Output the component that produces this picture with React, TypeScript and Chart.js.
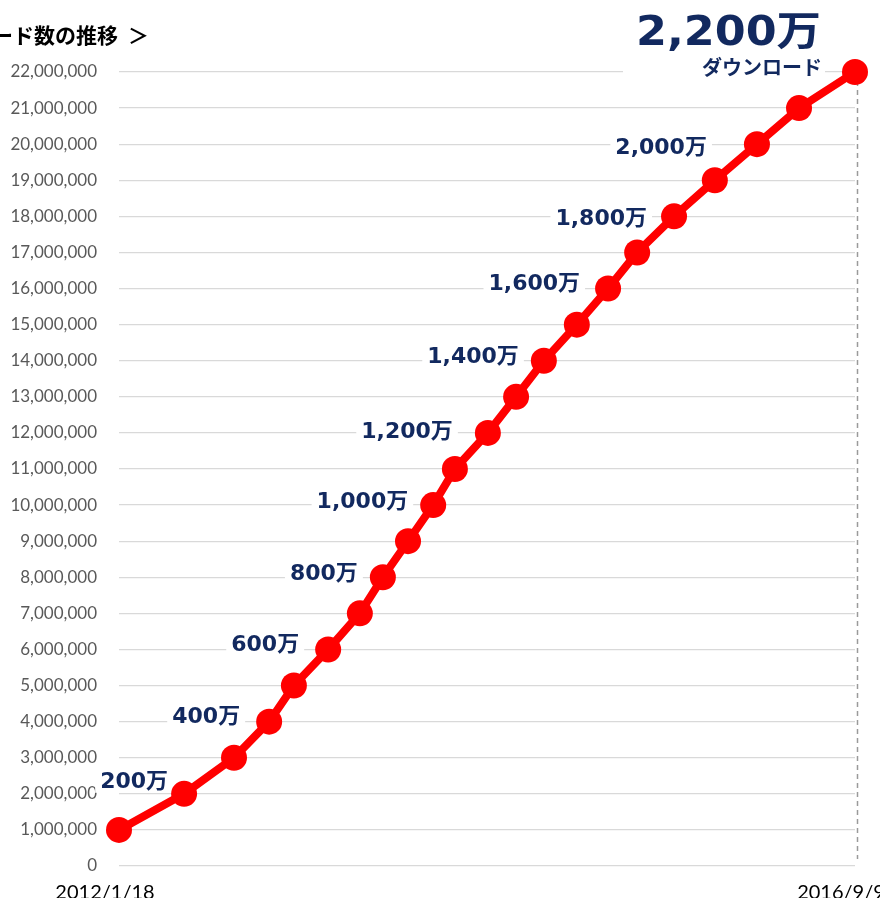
import React, { useEffect, useRef } from 'react';
import { Chart, registerables } from 'chart.js';

Chart.register(...registerables);

// ---- data ----
const dates = [
  '2012-01-18', '2012-06-16', '2012-10-09', '2012-12-29', '2013-02-24', '2013-05-14',
  '2013-07-26', '2013-09-17', '2013-11-14', '2014-01-11', '2014-03-02', '2014-05-17',
  '2014-07-21', '2014-09-23', '2014-12-08', '2015-02-18', '2015-04-26', '2015-07-20',
  '2015-10-22', '2016-01-27', '2016-05-03', '2016-09-09',
];
const downloads = [
  1000000, 2000000, 3000000, 4000000, 5000000, 6000000, 7000000, 8000000, 9000000, 10000000,
  11000000, 12000000, 13000000, 14000000, 15000000, 16000000, 17000000, 18000000, 19000000,
  20000000, 21000000, 22000000,
];
const xTickLabels = ['2012/1/18', '2016/9/9'];
const milestoneValues = [2000000, 4000000, 6000000, 8000000, 10000000, 12000000, 14000000, 16000000, 18000000, 20000000];
const milestoneTexts = ['200万', '400万', '600万', '800万', '1,000万', '1,200万', '1,400万', '1,600万', '1,800万', '2,000万'];
const headlineText = '2,200万';
const headlineSub = 'ダウンロード';
const titleText = 'ダウンロード数の推移';
const titleMark = '＞';

// ---- layout / style (pixel offsets of labels relative to their point) ----
const labelOffsets = [
  [-16, -12], [-29, -4], [-29, -4], [-25, -3], [-25, -3],
  [-35, -1], [-25, -3], [-28, -4], [-27, 3], [-50, 4],
];
const NAVY = '#12295f';
const RED = '#ff0000';

const DAY = 86400000;
const toDay = (s: string) => {
  const [y, m, d] = s.split('-').map(Number);
  return Date.UTC(y, m - 1, d) / DAY;
};
const points = dates.map((d, i) => ({ x: toDay(d), y: downloads[i] }));

const annotationPlugin = {
  id: 'annotations',
  beforeDatasetsDraw(chart: any) {
    const { ctx, chartArea } = chart;
    const xs = chart.scales.x;
    const ys = chart.scales.y;
    ctx.save();
    // dashed vertical line at the end
    const last = points[points.length - 1];
    const lx = Math.round(xs.getPixelForValue(last.x)) + 2.5;
    ctx.strokeStyle = '#9a9a9a';
    ctx.lineWidth = 1.5;
    ctx.setLineDash([5, 4]);
    ctx.beginPath();
    ctx.moveTo(lx, chartArea.top);
    ctx.lineTo(lx, chartArea.bottom - 7);
    ctx.stroke();
    ctx.setLineDash([]);

    // milestone labels
    ctx.font = 'bold 22px "DejaVu Sans", "Noto Sans CJK JP"';
    ctx.textAlign = 'right';
    ctx.textBaseline = 'middle';
    milestoneValues.forEach((v, i) => {
      const idx = downloads.indexOf(v);
      const px = xs.getPixelForValue(points[idx].x) + labelOffsets[i][0];
      const py = ys.getPixelForValue(v) + labelOffsets[i][1];
      const w = ctx.measureText(milestoneTexts[i]).width;
      ctx.fillStyle = '#ffffff';
      ctx.fillRect(px - w - 5, py - 11, w + 10, 22);
      ctx.fillStyle = NAVY;
      ctx.fillText(milestoneTexts[i], px, py);
    });

    // headline
    const hx = xs.getPixelForValue(last.x);
    const hy = ys.getPixelForValue(last.y);
    ctx.fillStyle = '#ffffff';
    ctx.fillRect(hx - 232, hy - 64, 202, 76);
    ctx.fillStyle = NAVY;
    ctx.font = 'bold 40px "DejaVu Sans", "Noto Sans CJK JP"';
    const hw = ctx.measureText(headlineText).width;
    const sx = 185 / hw;
    ctx.save();
    ctx.translate(hx - 34, hy - 37);
    ctx.scale(sx, 1);
    ctx.textAlign = 'right';
    ctx.fillText(headlineText, 0, 0);
    ctx.restore();
    ctx.font = 'bold 20px "Noto Sans CJK JP"';
    ctx.textAlign = 'right';
    ctx.fillText(headlineSub, hx - 33, hy - 5);
    ctx.restore();
  },
  afterDraw(chart: any) {
    const { ctx } = chart;
    ctx.save();
    ctx.fillStyle = '#000000';
    ctx.font = 'bold 21px "Noto Sans CJK JP"';
    ctx.textBaseline = 'middle';
    ctx.textAlign = 'right';
    ctx.fillText(titleText, 118, 35);
    ctx.textAlign = 'left';
    ctx.fillText(titleMark, 128, 35);
    ctx.restore();
  },
};

export default function App() {
  const canvasRef = useRef<HTMLCanvasElement | null>(null);

  useEffect(() => {
    if (!canvasRef.current) return;
    const minX = points[0].x;
    const maxX = points[points.length - 1].x;
    const chart = new Chart(canvasRef.current, {
      type: 'line',
      data: {
        datasets: [
          {
            data: points,
            borderColor: RED,
            borderWidth: 8,
            backgroundColor: RED,
            pointBackgroundColor: RED,
            pointBorderWidth: 0,
            pointRadius: 13,
            pointHoverRadius: 13,
            tension: 0,
            clip: false as any,
          },
        ],
      },
      options: {
        animation: false,
        responsive: false,
        events: [],
        layout: { padding: { top: 72, right: 25, left: 0, bottom: 0 } },
        plugins: {
          legend: { display: false },
          tooltip: { enabled: false },
          title: { display: false },
        },
        scales: {
          x: {
            type: 'linear',
            min: minX,
            max: maxX,
            grid: { display: false, drawTicks: false },
            border: { display: false },
            afterBuildTicks: (scale: any) => {
              scale.ticks = [{ value: minX }, { value: maxX }];
            },
            afterFit: (scale: any) => {
              scale.height = 32;
              scale.paddingLeft = 0;
              scale.paddingRight = 0;
            },
            ticks: {
              autoSkip: false,
              maxRotation: 0,
              minRotation: 0,
              padding: 15,
              labelOffset: -14,
              color: '#000000',
              font: { family: 'Lato', size: 20 },
              callback: (_v: any, i: number) => xTickLabels[i],
            },
          },
          y: {
            min: 0,
            max: 22000000,
            grid: { color: '#d9d9d9', lineWidth: 1.2, drawTicks: false },
            border: { display: false },
            afterFit: (scale: any) => {
              scale.width = 119;
              scale.paddingTop = 0;
              scale.paddingBottom = 0;
            },
            ticks: {
              stepSize: 1000000,
              padding: 22,
              color: '#595959',
              font: { family: 'Lato', size: 17 },
              callback: (v: any) => Number(v).toLocaleString('en-US'),
            },
          },
        },
      },
      plugins: [annotationPlugin],
    });
    return () => chart.destroy();
  }, []);

  return (
    <div style={{ position: 'absolute', left: 0, top: 0, width: 880, height: 898, background: '#ffffff' }}>
      <canvas ref={canvasRef} width={880} height={898} />
    </div>
  );
}
